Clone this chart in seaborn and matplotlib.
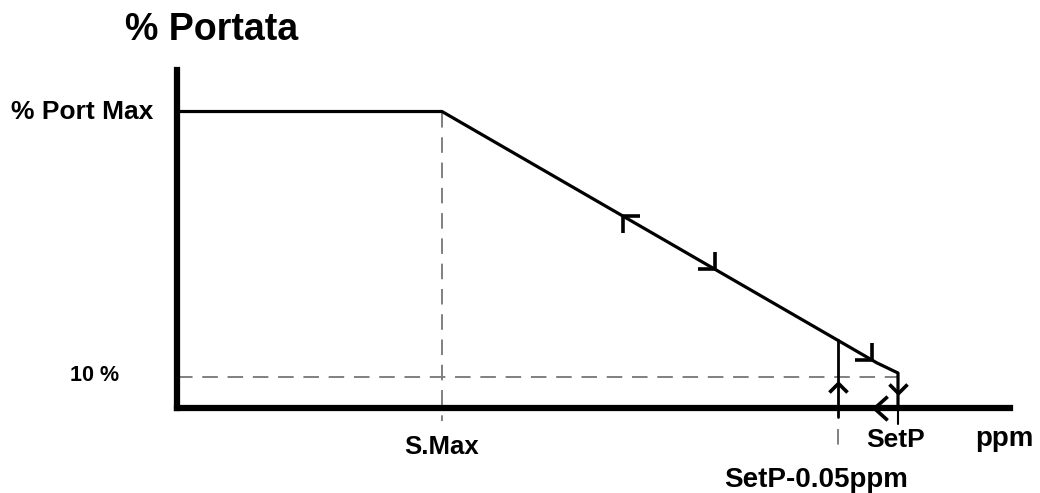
import numpy as np
import pandas as pd
import matplotlib
matplotlib.use("Agg")
import matplotlib.pyplot as plt
from matplotlib.path import Path
import seaborn as sns

sns.set_style("white")
plt.rcParams['font.family'] = ['Liberation Sans', 'DejaVu Sans']
plt.rcParams['text.color'] = 'black'

# --- DATA (schematic: ppm on x, % flow on y) ---
s_max = 2.65           # S.Max
setp = 7.21            # SetP
setp_low = 6.61        # SetP-0.05ppm
port_max = 100         # % Port Max
port_min = 10.5        # 10 %

curve_x = [0, s_max, 7.00, setp, setp]
curve_y = [port_max, port_max, 15.2, 11.8, 0]

# x positions of the direction arrows along the falling branch
arrow_up_left_x = [4.46]
arrow_down_right_x = [5.38, 6.95]

x_labels = ["S.Max", "SetP", "SetP-0.05ppm"]
y_labels = ["% Port Max", "10 %"]

curve_df = pd.DataFrame({"ppm": curve_x, "portata": curve_y})

fig = plt.figure(figsize=(10.4, 4.93), dpi=100)
W, H = 1040, 493
ax = fig.add_axes([177 / W, (H - 408) / H, (1010 - 177) / W, (408 - 70) / H])
ax.set_xlim(0, 8.33)
ax.set_ylim(0, 114)

# thick axes
for side in ["top", "right"]:
    ax.spines[side].set_visible(False)
for side in ["left", "bottom"]:
    ax.spines[side].set_linewidth(4.5)
    ax.spines[side].set_color("black")
    ax.spines[side].set_capstyle("projecting")
ax.set_xticks([])
ax.set_yticks([])
ax.set_xlabel("")
ax.set_ylabel("")

# dashed guides
dash_kw = dict(color="#808080", lw=1.4, dashes=(8, 5), clip_on=False, zorder=1)
ax.plot([s_max, s_max], [port_max, -4.5], **dash_kw)
ax.plot([0, setp], [port_min, port_min], **dash_kw)
ax.plot([setp_low, setp_low], [-7, -15], **dash_kw)

# main curve
sns.lineplot(data=curve_df, x="ppm", y="portata", sort=False, estimator=None,
             color="black", lw=2.3, ax=ax, zorder=3)
# the curve's vertical at SetP pokes just below the axis
ax.plot([setp, setp], [0, -5.5], color="black", lw=1.5, clip_on=False, zorder=3)

# return branch at SetP-0.05ppm
y_at_low = np.interp(setp_low, curve_x[:4], curve_y[:4])
ax.plot([setp_low, setp_low], [y_at_low, -3], color="black", lw=2.0, clip_on=False, zorder=3)


def head(verts):
    return Path(verts, [Path.MOVETO, Path.LINETO, Path.LINETO])


mk_down_right = head([(-1, 0), (0, 0), (0, 1)])
mk_up_left = head([(1, 0), (0, 0), (0, -1)])
mk_up = head([(-1, -1), (0, 0), (1, -1)])
mk_down = head([(-1, 1), (0, 0), (1, 1)])
mk_left = head([(1, 0.9), (0, 0), (1, -0.9)])

head_kw = dict(linestyle="none", color="black", markerfacecolor="none",
               markeredgewidth=2.6, clip_on=False, zorder=4)
ax.plot(arrow_up_left_x, np.interp(arrow_up_left_x, curve_x[:4], curve_y[:4]),
        marker=mk_up_left, markersize=25, **head_kw)
ax.plot(arrow_down_right_x, np.interp(arrow_down_right_x, curve_x[:4], curve_y[:4]),
        marker=mk_down_right, markersize=25, **head_kw)
ax.plot([setp_low], [8.4], marker=mk_up, markersize=13, **head_kw)
ax.plot([setp], [5.0], marker=mk_down, markersize=13, **head_kw)
ax.plot([(setp_low + setp) / 2 + 0.06], [0], marker=mk_left, markersize=19, **head_kw)

# labels
fig.text(125 / W, 1 - 30 / H, "% Portata", fontsize=27, fontweight="bold",
         ha="left", va="center")

ax.annotate(y_labels[0], xy=(0, port_max), xycoords=("axes fraction", "data"),
            xytext=(-17, 0), textcoords="offset points", ha="right", va="center",
            fontsize=19, fontweight="bold", annotation_clip=False)
ax.annotate(y_labels[1], xy=(0, port_min), xycoords=("axes fraction", "data"),
            xytext=(-42, 1), textcoords="offset points", ha="right", va="center",
            fontsize=15.5, fontweight="bold", annotation_clip=False)

ax.annotate(x_labels[0], xy=(s_max, 0), xycoords="data", xytext=(0, -28),
            textcoords="offset points", ha="center", va="center",
            fontsize=18.5, fontweight="bold", annotation_clip=False)
ax.annotate(x_labels[1], xy=(setp, 0), xycoords="data", xytext=(-2, -23),
            textcoords="offset points", ha="center", va="center",
            fontsize=19, fontweight="bold", annotation_clip=False)
ax.annotate(x_labels[2], xy=(setp_low, 0), xycoords="data", xytext=(-16, -52),
            textcoords="offset points", ha="center", va="center",
            fontsize=20, fontweight="bold", annotation_clip=False)
ax.annotate("ppm", xy=(1, 0), xycoords="axes fraction", xytext=(-4, -22),
            textcoords="offset points", ha="center", va="center",
            fontsize=20, fontweight="bold", annotation_clip=False)

fig.savefig("out.png", dpi=100)
